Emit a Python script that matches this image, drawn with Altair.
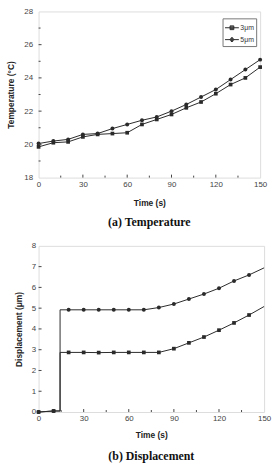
import altair as alt
import pandas as pd

# ---------------- data ----------------
series_names = ["3μm", "5μm"]

temp_time = [0, 10, 20, 30, 40, 50, 60, 70, 80, 90, 100, 110, 120, 130, 140, 150]
temp_3um = [19.85, 20.1, 20.15, 20.45, 20.6, 20.65, 20.7, 21.2, 21.5, 21.8, 22.2, 22.55, 23.05, 23.6, 24.0, 24.65]
temp_5um = [20.05, 20.2, 20.3, 20.6, 20.65, 20.95, 21.2, 21.45, 21.65, 22.0, 22.4, 22.85, 23.3, 23.9, 24.5, 25.1]

disp_time = [0, 10, 14.3, 14.3, 20, 30, 40, 50, 60, 70, 80, 90, 100, 110, 120, 130, 140, 150]
disp_3um = [0, 0.05, 0.05, 2.87, 2.87, 2.87, 2.86, 2.87, 2.87, 2.87, 2.87, 3.05, 3.33, 3.61, 3.94, 4.29, 4.67, 5.08]
disp_5um = [0, 0.05, 0.05, 4.92, 4.92, 4.92, 4.92, 4.92, 4.92, 4.92, 5.03, 5.2, 5.44, 5.68, 5.96, 6.31, 6.6, 6.94]
disp_marker = [True, True, False, False, True, True, True, True, True, True, True, True, True, True, True, True, True, False]

temp_x_ticks = [0, 30, 60, 90, 120, 150]
temp_x_minor = [15, 45, 75, 105, 135]
temp_y_ticks = [18, 20, 22, 24, 26, 28]
temp_y_minor = [19, 21, 23, 25, 27]
disp_x_ticks = [0, 30, 60, 90, 120, 150]
disp_x_minor = [15, 45, 75, 105, 135]
disp_y_ticks = [0, 1, 2, 3, 4, 5, 6, 7, 8]

# ---------------- tables ----------------
temp_df = pd.DataFrame({
    "t": temp_time * 2,
    "v": temp_3um + temp_5um,
    "s": [series_names[0]] * len(temp_time) + [series_names[1]] * len(temp_time),
    "i": list(range(len(temp_time))) * 2,
    "m": [True] * (2 * len(temp_time)),
})
disp_df = pd.DataFrame({
    "t": disp_time * 2,
    "v": disp_3um + disp_5um,
    "s": [series_names[0]] * len(disp_time) + [series_names[1]] * len(disp_time),
    "i": list(range(len(disp_time))) * 2,
    "m": disp_marker * 2,
})

LINE = "#2a2a2a"
FONT = "Liberation Sans"
# legend glyphs: a line segment plus a marker drawn as stacked strokes
SQUARE = ("M-1,0H1M-0.27,-0.27H0.27M-0.27,-0.13H0.27M-0.27,0.13H0.27M-0.27,0.27H0.27"
          "M-0.27,-0.27V0.27M0.27,-0.27V0.27")
CIRCLE = ("M-1,0H1M-0.14,-0.27H0.14M-0.25,-0.14H0.25M-0.25,0.14H0.25M-0.14,0.27H0.14"
          "M-0.3,-0.06V0.06M0.3,-0.06V0.06")


def panel(df, w, h, xdom, ydom, xt, xminor, yt, yminor, ytitle, caption,
          lx, ly, sym_size, lab_size, row_pad, ylabpad, ytitlepad, xtitlepad, capoff):
    xs = alt.Scale(domain=xdom, nice=False, zero=False)
    ys = alt.Scale(domain=ydom, nice=False, zero=False)
    xa = alt.Axis(values=xt, ticks=False, domain=False, grid=False, labelPadding=3,
                  labelFontSize=8, labelFont=FONT, labelColor="#444", labelOverlap=False,
                  title="Time (s)", titleFont=FONT, titleFontSize=8.5, titleFontWeight="bold",
                  titleColor="#222", titlePadding=xtitlepad, labelFlush=False)
    ya = alt.Axis(values=yt, ticks=False, domain=False, grid=False, labelPadding=ylabpad,
                  labelFontSize=8, labelFont=FONT, labelColor="#444", labelOverlap=False,
                  title=ytitle, titleFont=FONT, titleFontSize=8.5, titleFontWeight="bold",
                  titleColor="#222", titlePadding=ytitlepad)
    X = lambda f: alt.X(f, scale=xs, axis=xa)
    Y = lambda f: alt.Y(f, scale=ys, axis=ya)
    base = alt.Chart(df)
    line = base.mark_line(color=LINE, strokeWidth=1).encode(
        x=X("t:Q"), y=Y("v:Q"), detail="s:N", order="i:Q")
    sq = base.transform_filter(alt.datum.m).transform_filter(
        alt.datum.s == series_names[0]).mark_point(
        shape="square", filled=True, color=LINE, size=14, opacity=1).encode(
        x=X("t:Q"), y=Y("v:Q"))
    ci = base.transform_filter(alt.datum.m).transform_filter(
        alt.datum.s == series_names[1]).mark_point(
        shape="circle", filled=True, color=LINE, size=16, opacity=1).encode(
        x=X("t:Q"), y=Y("v:Q"))
    leg = base.transform_filter("false").mark_point(
        filled=False, color=LINE, strokeWidth=1, opacity=1).encode(
        shape=alt.Shape("s:N", scale=alt.Scale(domain=series_names, range=[SQUARE, CIRCLE]),
                        legend=alt.Legend(title=None, orient="none", legendX=lx, legendY=ly,
                                          symbolSize=sym_size,
                                          symbolStrokeColor=LINE, symbolStrokeWidth=1,
                                          labelFont=FONT, labelFontSize=lab_size,
                                          labelColor="#333", labelOffset=1,
                                          strokeColor="#777", padding=2, rowPadding=row_pad,
                                          fillColor="white"))
    )
    # inward tick marks
    xtk = alt.Chart(pd.DataFrame({"x": xt[1:-1]})).mark_rule(color="#444").encode(
        x=X("x:Q"), y=alt.value(h), y2=alt.value(h - 3))
    xmn = alt.Chart(pd.DataFrame({"x": xminor})).mark_rule(color="#444").encode(
        x=X("x:Q"), y=alt.value(h), y2=alt.value(h - 2))
    ytk = alt.Chart(pd.DataFrame({"y": yt[1:-1]})).mark_rule(color="#444").encode(
        y=Y("y:Q"), x=alt.value(0), x2=alt.value(3))
    layers = [xtk, xmn, ytk]
    if yminor:
        ymn = alt.Chart(pd.DataFrame({"y": yminor})).mark_rule(color="#444").encode(
            y=Y("y:Q"), x=alt.value(0), x2=alt.value(2))
        layers.append(ymn)
    return alt.layer(line, sq, ci, leg, *layers).properties(
        width=w, height=h,
        title=alt.TitleParams(caption, orient="bottom", font="Liberation Serif",
                              fontSize=12, fontWeight="bold", color="#111", offset=capoff),
    )


top = panel(temp_df, 224, 168, [0, 150], [18, 28], temp_x_ticks, temp_x_minor,
            temp_y_ticks, temp_y_minor, "Temperature (°C)", "(a)  Temperature",
            186, 7, 196, 7, -4, 6, 8, 10, 10)
bot = panel(disp_df, 228, 168, [0, 150], [0, 8], disp_x_ticks, disp_x_minor,
            disp_y_ticks, None, "Displacement (μm)", "(b)  Displacement",
            157, 6, 225, 8, -4, 3, 8, 8, 12)

chart = alt.vconcat(top, bot, spacing=13).properties(
    padding={"left": 6, "top": 4, "right": 0, "bottom": 0},
).configure_view(stroke="#555", strokeWidth=1).configure(background="white")

chart.save("out.html", embed_options={"renderer": "svg", "actions": False})
